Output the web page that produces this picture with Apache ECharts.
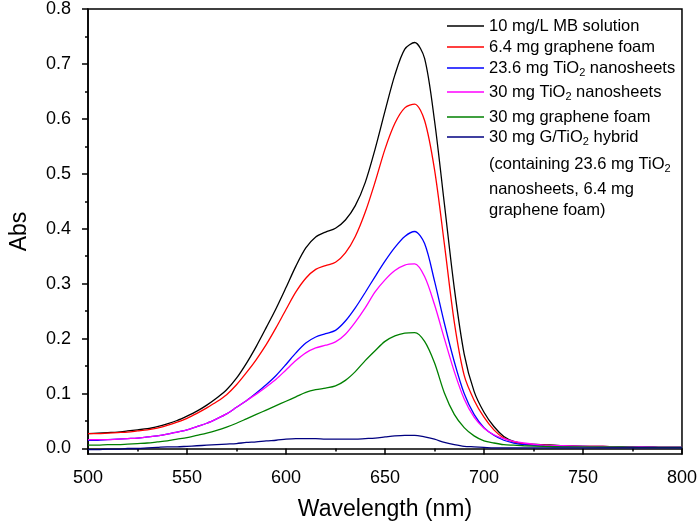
<!DOCTYPE html>
<html>
<head>
<meta charset="utf-8">
<style>html,body{margin:0;padding:0;background:#fff}#c{width:700px;height:527px}</style>
<script src="https://cdn.jsdelivr.net/npm/echarts@6/dist/echarts.min.js"></script>
</head>
<body>
<div id="c"></div>
<script>
const wavelengths = [500,505,510,515,520,525,530,535,540,545,
  550,555,560,565,570,575,580,585,590,595,
  600,605,610,615,620,625,630,635,640,645,
  650,655,660,665,670,675,680,685,690,695,
  700,705,710,715,720,
  730,740,750,760,770,780,790,800];
const mbSolution = [0.027,0.028,0.029,0.030,0.032,0.034,0.036,0.040,0.045,0.051,
  0.059,0.068,0.079,0.092,0.107,0.128,0.155,0.186,0.220,0.255,
  0.293,0.332,0.365,0.385,0.394,0.401,0.416,0.442,0.484,0.545,
  0.614,0.680,0.727,0.739,0.710,0.597,0.445,0.292,0.172,0.104,
  0.066,0.040,0.022,0.013,0.009,
  0.007,0.005,0.004,0.004,0.003,0.003,0.002,0.002];
const grapheneFoam64 = [0.027,0.027,0.028,0.029,0.030,0.032,0.034,0.037,0.042,0.048,
  0.055,0.064,0.074,0.085,0.098,0.116,0.138,0.162,0.189,0.220,
  0.253,0.285,0.310,0.326,0.333,0.339,0.356,0.386,0.430,0.485,
  0.545,0.592,0.620,0.627,0.597,0.508,0.372,0.230,0.133,0.088,
  0.057,0.034,0.019,0.012,0.009,
  0.006,0.005,0.004,0.004,0.003,0.003,0.002,0.002];
const tio2Sheets236 = [0.015,0.015,0.016,0.017,0.018,0.019,0.021,0.023,0.026,0.030,
  0.034,0.040,0.046,0.054,0.063,0.075,0.087,0.101,0.116,0.133,
  0.153,0.174,0.192,0.203,0.209,0.215,0.232,0.256,0.284,0.313,
  0.341,0.366,0.386,0.395,0.373,0.305,0.228,0.158,0.100,0.062,
  0.038,0.024,0.015,0.010,0.007,
  0.005,0.004,0.004,0.003,0.003,0.003,0.002,0.002];
const tio2Sheets30 = [0.016,0.016,0.016,0.017,0.018,0.019,0.021,0.023,0.026,0.030,
  0.034,0.040,0.046,0.054,0.063,0.075,0.087,0.099,0.112,0.126,
  0.143,0.160,0.174,0.183,0.188,0.194,0.208,0.230,0.256,0.285,
  0.307,0.324,0.334,0.336,0.313,0.262,0.200,0.140,0.090,0.057,
  0.037,0.025,0.018,0.013,0.010,
  0.006,0.005,0.004,0.004,0.003,0.003,0.002,0.002];
const grapheneFoam30 = [0.006,0.006,0.007,0.007,0.008,0.009,0.010,0.012,0.014,0.017,
  0.020,0.024,0.028,0.033,0.039,0.046,0.054,0.062,0.070,0.078,
  0.086,0.094,0.102,0.107,0.110,0.114,0.124,0.140,0.160,0.178,
  0.195,0.205,0.210,0.211,0.195,0.156,0.101,0.062,0.038,0.023,
  0.014,0.010,0.007,0.006,0.005,
  0.004,0.003,0.003,0.003,0.003,0.002,0.002,0.002];
const gTio2Hybrid = [-0.002,-0.002,-0.001,-0.001,0.000,0.000,0.001,0.002,0.003,0.003,
  0.004,0.005,0.006,0.007,0.008,0.009,0.011,0.012,0.014,0.015,
  0.017,0.018,0.018,0.018,0.017,0.017,0.017,0.017,0.018,0.019,
  0.021,0.023,0.024,0.024,0.021,0.017,0.011,0.007,0.004,0.003,
  0.002,0.001,0.001,0.001,0.001,
  0.001,0.001,0.001,0.001,0.001,0.001,0.001,0.001];
const yTicks = [0,0.1,0.2,0.3,0.4,0.5,0.6,0.7,0.8];
const yMinorTicks = [0.05,0.15,0.25,0.35,0.45,0.55,0.65,0.75];

const seriesDefs = [
  {name:'10 mg/L MB solution', values: mbSolution, color:'#000000'},
  {name:'6.4 mg graphene foam', values: grapheneFoam64, color:'#ff0000'},
  {name:'23.6 mg TiO2 nanosheets', values: tio2Sheets236, color:'#0000ff'},
  {name:'30 mg TiO2 nanosheets', values: tio2Sheets30, color:'#ff00ff'},
  {name:'30 mg graphene foam', values: grapheneFoam30, color:'#008000'},
  {name:'30 mg G/TiO2 hybrid', values: gTio2Hybrid, color:'#000080'}
];

const FONT = 'Liberation Sans, Arial, sans-serif';
const chart = echarts.init(document.getElementById('c'));

const legendRows = [
  {y: 26, text: '{n|10 mg/L MB solution}', color:'#000000'},
  {y: 47, text: '{n|6.4 mg graphene foam}', color:'#ff0000'},
  {y: 68, text: '{n|23.6 mg TiO}{s|2}{n| nanosheets}', color:'#0000ff'},
  {y: 92, text: '{n|30 mg TiO}{s|2}{n| nanosheets}', color:'#ff00ff'},
  {y: 117, text: '{n|30 mg graphene foam}', color:'#008000'},
  {y: 137, text: '{n|30 mg G/TiO}{s|2}{n| hybrid}', color:'#000080'},
  {y: 164, text: '{n|(containing 23.6 mg TiO}{s|2}', color:null},
  {y: 189, text: '{n|nanosheets, 6.4 mg}', color:null},
  {y: 210, text: '{n|graphene foam)}', color:null}
];
const rich = {
  n: {fontSize: 16.5, fontFamily: FONT, fill: '#000', lineHeight: 17},
  s: {fontSize: 11, fontFamily: FONT, fill: '#000', padding: [10,0,0,0]}
};
const graphics = [];
legendRows.forEach(r => {
  if (r.color) {
    graphics.push({type:'line', shape:{x1:447, y1:r.y, x2:484, y2:r.y}, style:{stroke:r.color, lineWidth:1.3}, silent:true});
  }
  graphics.push({type:'text', x:489, y:r.y, style:{text:r.text, rich:rich, verticalAlign:'middle', align:'left'}, silent:true});
});

chart.setOption({
  animation: false,
  backgroundColor: '#fff',
  textStyle: {fontFamily: FONT},
  grid: {left: 86, right: 17, top: 9, bottom: 73, show: true, borderColor: '#000', borderWidth: 1.5, backgroundColor: 'transparent'},
  xAxis: {
    type: 'value', min: 500, max: 800, interval: 50,
    name: 'Wavelength (nm)', nameLocation: 'middle', nameGap: 44,
    nameTextStyle: {fontSize: 23, color: '#000', fontFamily: FONT},
    axisLine: {show: true, lineStyle: {color: '#000', width: 1.5}},
    axisTick: {show: true, length: 6, lineStyle: {color: '#000', width: 1.5}},
    minorTick: {show: true, splitNumber: 2, length: 3, lineStyle: {color: '#000', width: 1.5}},
    splitLine: {show: false},
    axisLabel: {fontSize: 18, color: '#000', margin: 15, fontFamily: FONT}
  },
  yAxis: [{
    type: 'value', min: -0.01, max: 0.8,
    name: 'Abs', nameLocation: 'middle', nameGap: 57,
    nameTextStyle: {fontSize: 23, color: '#000', fontFamily: FONT},
    axisLine: {show: true, lineStyle: {color: '#000', width: 1.5}},
    axisTick: {show: true, length: 6, customValues: yTicks, lineStyle: {color: '#000', width: 1.5}},
    splitLine: {show: false},
    axisLabel: {fontSize: 18, color: '#000', margin: 17, fontFamily: FONT, customValues: yTicks, formatter: v => v.toFixed(1)}
  }, {
    type: 'value', min: -0.01, max: 0.8, position: 'left', offset: 0,
    axisLine: {show: false},
    axisTick: {show: true, length: 3, customValues: yMinorTicks, lineStyle: {color: '#000', width: 1.5}},
    axisLabel: {show: false},
    splitLine: {show: false}
  }],
  series: seriesDefs.map(s => ({
    name: s.name, type: 'line', yAxisIndex: 0,
    data: wavelengths.map((w, i) => [w, s.values[i]]),
    showSymbol: false, smooth: 0.3,
    lineStyle: {color: s.color, width: 1.3},
    itemStyle: {color: s.color}
  })),
  graphic: graphics
});
</script>
</body>
</html>
